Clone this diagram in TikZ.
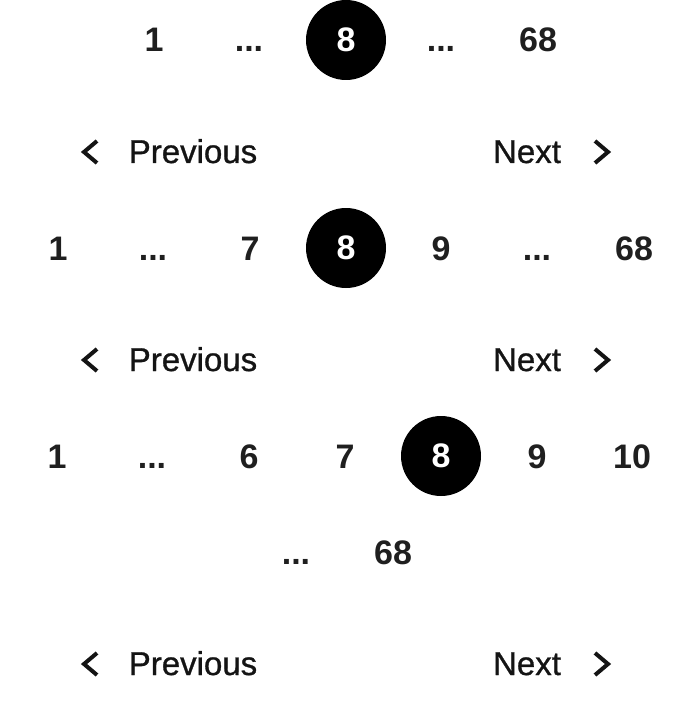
\documentclass[tikz,border=0pt]{standalone}
\usepackage{fontspec}
\setmainfont{Liberation Sans}
\newfontfamily\navfont{Liberation Sans}[BoldFont=Liberation Sans, BoldFeatures={FakeBold=0.9}]
\tikzset{
  pagenum/.style={font=\fontsize{34}{40}\selectfont\bfseries, text=black!88, anchor=base, inner sep=0pt},
  current/.style={circle, fill=black, minimum size=80pt, inner sep=0pt, text=white, font=\fontsize{34}{40}\selectfont\bfseries},
  navtext/.style={font=\navfont\fontsize{33}{40}\selectfont\bfseries, text=black!92, anchor=base, inner sep=0pt},
  chevron/.style={line width=4pt, black!92}
}
\begin{document}
\begin{tikzpicture}[x=1pt, y=-1pt]
            \useasboundingbox (0,0) rectangle (688,722);
            % first row
            \node[pagenum] (aone) at (154,52) {1};
            \node[pagenum] (adotsl) at (249,52) {...};
            \node[current] (acur) at (346,40) {8};
            \node[pagenum] (adotsr) at (441,52) {...};
            \node[pagenum] (alast) at (538,52) {68};
            \draw[chevron] (97,141) -- (84,152) -- (97,163);
            \node[navtext] (aprev) at (193,163) {Previous};
            \node[navtext] (anext) at (527,163) {Next};
            \draw[chevron] (595,141) -- (608,152) -- (595,163);
            % second row
            \node[pagenum] (bone) at (58,260) {1};
            \node[pagenum] (bdotsl) at (153,260) {...};
            \node[pagenum] (bseven) at (250,260) {7};
            \node[current] (bcur) at (346,248) {8};
            \node[pagenum] (bnine) at (441,260) {9};
            \node[pagenum] (bdotsr) at (537,260) {...};
            \node[pagenum] (blast) at (634,260) {68};
            \draw[chevron] (97,349) -- (84,360) -- (97,371);
            \node[navtext] (bprev) at (193,371) {Previous};
            \node[navtext] (bnext) at (527,371) {Next};
            \draw[chevron] (595,349) -- (608,360) -- (595,371);
            % third row, wraps
            \node[pagenum] (cone) at (57,468) {1};
            \node[pagenum] (cdotsl) at (152,468) {...};
            \node[pagenum] (csix) at (249,468) {6};
            \node[pagenum] (cseven) at (345,468) {7};
            \node[current] (ccur) at (441,456) {8};
            \node[pagenum] (cnine) at (537,468) {9};
            \node[pagenum] (cten) at (632,468) {10};
            \node[pagenum] (cdotsr) at (296,564) {...};
            \node[pagenum] (clast) at (393,564) {68};
            \draw[chevron] (97,653) -- (84,664) -- (97,675);
            \node[navtext] (cprev) at (193,675) {Previous};
            \node[navtext] (cnext) at (527,675) {Next};
            \draw[chevron] (595,653) -- (608,664) -- (595,675);
        \end{tikzpicture}
\end{document}
